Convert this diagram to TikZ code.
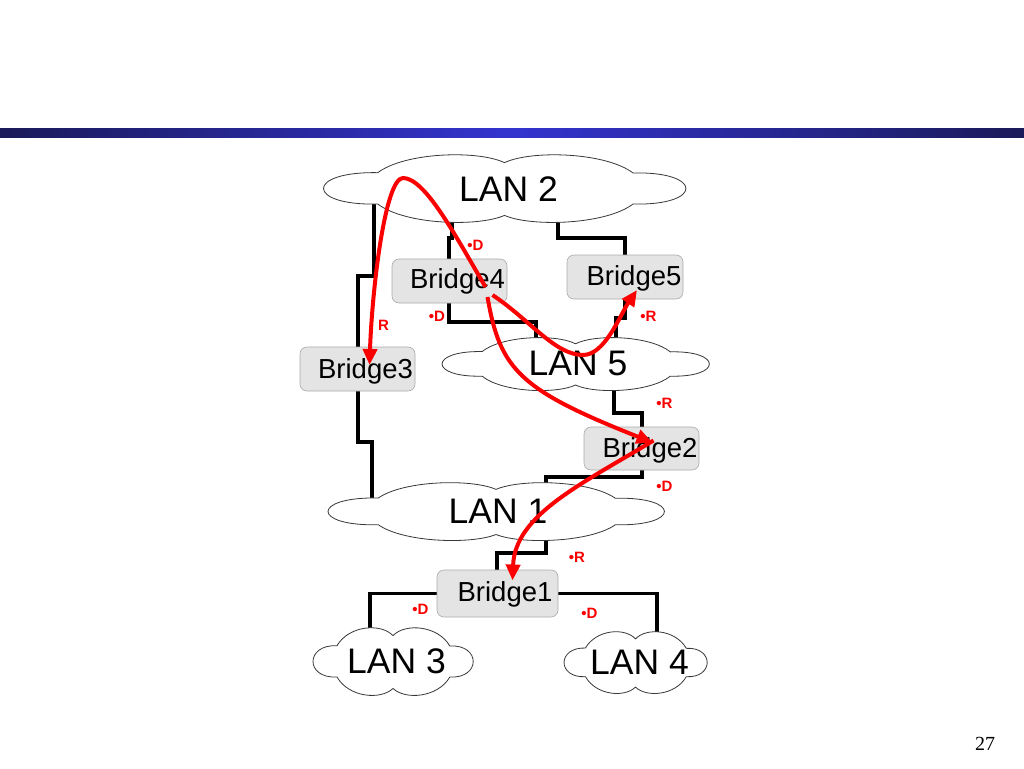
\documentclass[tikz,border=0pt]{standalone}
\usepackage{fontspec}
\setmainfont{Liberation Sans}
\newfontfamily\pgserif{Liberation Serif}
\usetikzlibrary{arrows.meta,calc}
\pgfdeclarelayer{bg}
\pgfsetlayers{bg,main}
\definecolor{barEdge}{RGB}{26,26,90}
\definecolor{barMid}{RGB}{52,52,208}
\definecolor{boxFill}{RGB}{228,228,228}
\definecolor{boxLine}{RGB}{170,170,170}
\definecolor{cloudLine}{RGB}{55,55,55}
\definecolor{stRed}{RGB}{250,0,0}
\tikzset{
  lancloud/.pic={
    \draw[draw=cloudLine, line width=0.8pt, fill=white]
      (-0.70,0.46) .. controls (-0.55,1.05) and (-0.15,1.12) .. (0,0.75)
      .. controls (0.15,1.12) and (0.56,1.05) .. (0.71,0.45)
      .. controls (1.1,0.5) and (1.1,-0.5) .. (0.71,-0.45)
      .. controls (0.56,-1.05) and (0.15,-1.12) .. (0,-0.78)
      .. controls (-0.15,-1.12) and (-0.55,-1.05) .. (-0.70,-0.45)
      .. controls (-1.1,-0.5) and (-1.1,0.5) .. cycle;
  },
  bridgebox/.style={draw=boxLine, line width=0.6pt, fill=boxFill, rounded corners=7pt, inner sep=0pt},
  bridgetext/.style={anchor=base, inner sep=0pt, font=\fontsize{27.5}{33}\selectfont},
  lantext/.style={anchor=base, inner sep=0pt, font=\fontsize{35.5}{42}\selectfont},
  portlabel/.style={anchor=base, inner sep=0pt, text=stRed, font=\bfseries\fontsize{15}{18}\selectfont},
  wire/.style={draw=black, line width=3.1pt},
  redarrow/.style={draw=stRed, line width=4pt, -{Triangle[length=16pt,width=14pt]}}
}
\begin{document}
\begin{tikzpicture}[x=1pt,y=-1pt]
\useasboundingbox (0,0) rectangle (1024,768);
% title bar
\shade[left color=barEdge, right color=barEdge, middle color=barMid] (0,128) rectangle (1024,137);

% LAN clouds
\coordinate (lan2) at (504.5,188.5);
\coordinate (lan5) at (575.5,364);
\coordinate (lan1) at (496,511.5);
\coordinate (lan3) at (393,661.5);
\coordinate (lan4) at (635.5,662.5);
\pic[xscale=181, yscale=-34.5] at (lan2) {lancloud};
\pic[xscale=133.5, yscale=-27] at (lan5) {lancloud};
\pic[xscale=168, yscale=-29.5] at (lan1) {lancloud};
\pic[xscale=80, yscale=-34.5] at (lan3) {lancloud};
\pic[xscale=71.5, yscale=-31.5] at (lan4) {lancloud};

% bridges
\node[bridgebox, minimum width=115, minimum height=44] (b4) at (449.5,281) {};
\node[bridgebox, minimum width=116, minimum height=44] (b5) at (625,277) {};
\node[bridgebox, minimum width=115, minimum height=44] (b3) at (357.5,369) {};
\node[bridgebox, minimum width=115, minimum height=43] (b2) at (641.5,448.5) {};
\node[bridgebox, minimum width=121, minimum height=47] (b1) at (497.5,593.5) {};

% wires (behind clouds and boxes)
\begin{pgfonlayer}{bg}
\draw[wire] (374,0 |- lan2) -- (374,276) -- (358,276) -- (358,0 |- b3.center);
\draw[wire] (358,0 |- b3.center) -- (358,442) -- (372,442) -- (372,0 |- lan1);
\draw[wire] (452,0 |- lan2) -- (452,238) -- (449,238) -- (449,0 |- b4.center);
\draw[wire] (449,0 |- b4.center) -- (449,322) -- (536,322) -- (536,0 |- lan5);
\draw[wire] (558,0 |- lan2) -- (558,238) -- (625,238) -- (625,0 |- b5.center);
\draw[wire] (625,0 |- b5.center) -- (625,318) -- (616,318) -- (616,0 |- lan5);
\draw[wire] (614,0 |- lan5) -- (614,413) -- (642,413) -- (642,0 |- b2.center);
\draw[wire] (642,0 |- b2.center) -- (642,477) -- (546,477) -- (546,0 |- lan1);
\draw[wire] (546,0 |- lan1) -- (546,553) -- (497,553) -- (497,0 |- b1.center);
\draw[wire] (b1.center) -| (370,0 |- lan3);
\draw[wire] (b1.center) -| (657,0 |- lan4);
\end{pgfonlayer}

% texts
\node[lantext] (t2) at (508.5,201) {LAN 2};
\node[lantext] (t5) at (578,375) {LAN 5};
\node[lantext] (t1) at (498,523) {LAN 1};
\node[lantext] (t3) at (396.5,673) {LAN 3};
\node[lantext] (t4) at (639.5,674) {LAN 4};
\node[bridgetext] (tb4) at (457.5,288) {Bridge4};
\node[bridgetext] (tb5) at (634,285) {Bridge5};
\node[bridgetext] (tb3) at (365.5,378) {Bridge3};
\node[bridgetext] (tb2) at (650,457) {Bridge2};
\node[bridgetext] (tb1) at (505,601) {Bridge1};

% port labels
\node[portlabel] (p1) at (475.5,250) {•D};
\node[portlabel] (p2) at (437,321) {•D};
\node[portlabel] (p3) at (383.5,330) {R};
\node[portlabel] (p4) at (648.5,321) {•R};
\node[portlabel] (p5) at (664.5,408) {•R};
\node[portlabel] (p6) at (664.5,491) {•D};
\node[portlabel] (p7) at (577,562) {•R};
\node[portlabel] (p8) at (420.5,614) {•D};
\node[portlabel] (p9) at (589.5,618) {•D};

% red arrows
\draw[redarrow] ($(b4.center)+(36,6)$) .. controls (455,235) and (425,178) .. (403,178)
   .. controls (385,178) and (372,290) .. ($(b3.center)+(12,-4)$);
\draw[redarrow] ($(b4.center)+(43,14)$) .. controls (530,320) and (555,355) .. (583,355)
   .. controls (605,355) and (620,315) .. ($(b5.center)+(12,13)$);
\draw[redarrow] ($(b4.center)+(38,16)$) .. controls (500,370) and (520,390) .. ($(b2.center)+(11,-6)$);
\draw[redarrow] ($(b2.center)+(12,-8)$) .. controls (580,485) and (515,515) .. ($(b1.center)+(15,-13)$);

% page number
\node[anchor=base, inner sep=0pt, font=\pgserif\fontsize{20}{24}\selectfont] (pg) at (985,750) {27};
\end{tikzpicture}
\end{document}
